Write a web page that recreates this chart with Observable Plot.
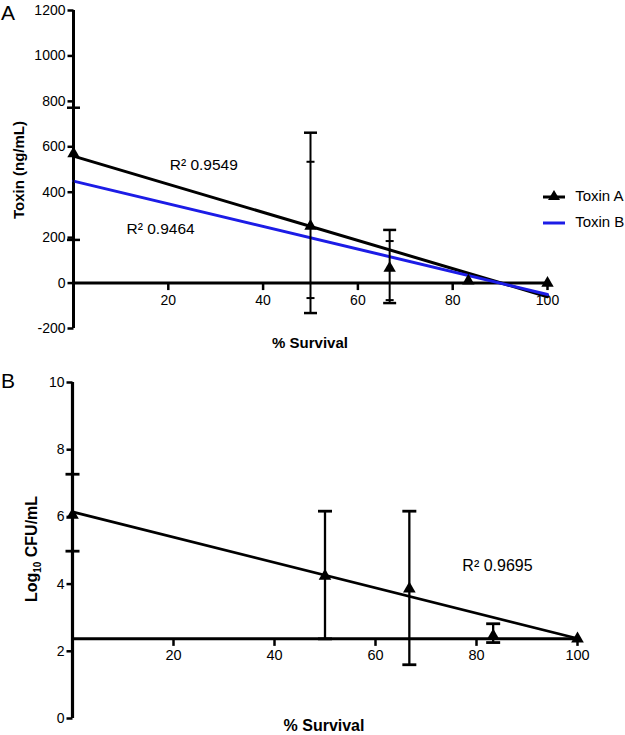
<!DOCTYPE html>
<html>
<head>
<meta charset="utf-8">
<script src="https://cdn.jsdelivr.net/npm/d3@7"></script>
<script src="https://cdn.jsdelivr.net/npm/@observablehq/plot@0.6"></script>
<style>
  body { margin: 0; background: #fff; font-family: "Liberation Sans", Arial, sans-serif; }
  #wrap { position: relative; width: 625px; height: 735px; overflow: hidden; }
  .abs { position: absolute; }
  .panel { position: absolute; left: 0; font-size: 21px; line-height: 21px; color: #000; }
  .ytitle { position: absolute; font-weight: bold; white-space: nowrap; transform: translate(-50%, -50%) rotate(-90deg); color: #000; }
  .xtitle { position: absolute; font-weight: bold; white-space: nowrap; transform: translate(-50%, -50%); color: #000; }
  .leg { position: absolute; font-size: 15px; white-space: nowrap; color: #000; }
</style>
</head>
<body>
<div id="wrap">
  <div id="plotA" class="abs" style="left:0;top:0"></div>
  <div id="plotB" class="abs" style="left:0;top:360px"></div>
  <div class="panel" style="top:2px;left:1px">A</div>
  <div class="panel" style="top:370px;left:1px">B</div>
  <div class="ytitle" style="left:18px;top:170px;font-size:15px">Toxin (ng/mL)</div>
  <div class="ytitle" style="left:33px;top:549px;font-size:16px">Log<sub style="font-size:10px">10</sub> CFU/mL</div>
  <div class="xtitle" style="left:310px;top:342px;font-size:15px">% Survival</div>
  <div class="xtitle" style="left:324px;top:726px;font-size:16px">% Survival</div>
  <div class="leg" style="left:541px;top:186px">
    <svg width="26" height="18" style="vertical-align:middle"><line x1="2" y1="10" x2="24" y2="10" stroke="#000" stroke-width="3"/><path d="M13,3 L19,13 L7,13 Z" fill="#000"/></svg>
    <span style="position:relative;top:1px;margin-left:4px">Toxin A</span>
  </div>
  <div class="leg" style="left:541px;top:212px">
    <svg width="26" height="18" style="vertical-align:middle"><line x1="2" y1="10" x2="24" y2="10" stroke="#1c1ce6" stroke-width="3"/></svg>
    <span style="position:relative;top:1px;margin-left:4px">Toxin B</span>
  </div>
</div>
<script>
// ---------- data ----------
const xTicks = [20, 40, 60, 80, 100];
const yTicksA = [-200, 0, 200, 400, 600, 800, 1000, 1200];
const yTicksB = [0, 2, 4, 6, 8, 10];

const survival = [0, 50, 66.7, 83.3, 100];

// Panel A
const toxinA = [570, 251, 66, 10, 0];
const toxinAErrLow = [190, -132, -88, null, null];
const toxinAErrHigh = [772, 662, 234, null, null];
const toxinBErrLow = [null, -66, -75, null, null];
const toxinBErrHigh = [null, 534, 185, null, null];
const fitX = [0, 100];
const fitToxinA = [559, -60];
const fitToxinB = [449, -50];
const r2TextA = ["R² 0.9549", "R² 0.9464"];
const r2XA = [20.3, 11.2];
const r2YA = [518, 240];

// Panel B
const cfu = [6.05, 4.24, 3.86, 2.46, 2.37];
const cfuErrLow = [4.98, 2.37, 1.6, 2.26, null];
const cfuErrHigh = [7.27, 6.17, 6.17, 2.82, null];
const fitCfu = [6.15, 2.38];
const cfuAxisCross = 2.37;
const r2TextB = ["R² 0.9695"];
const r2XB = [77.2];
const r2YB = [4.54];

// ---------- helpers ----------
const FONT = '"Liberation Sans", Arial, sans-serif';
const tickLeft = {draw(c) { c.moveTo(0, 0); c.lineTo(-6, 0); }};
const tickDown = {draw(c) { c.moveTo(0, 0); c.lineTo(0, 7); }};
const capWide = {draw(c) { c.moveTo(-6.5, 0); c.lineTo(6.5, 0); }};
const capNarrow = {draw(c) { c.moveTo(-4, 0); c.lineTo(4, 0); }};
const capB = {draw(c) { c.moveTo(-7, 0); c.lineTo(7, 0); }};

function errRows(lo, hi) {
  return survival.map((s, i) => ({s, lo: lo[i], hi: hi[i]})).filter(d => d.lo != null && d.hi != null);
}
function caps(rows) {
  return rows.flatMap(d => [{s: d.s, v: d.lo}, {s: d.s, v: d.hi}]);
}

// ---------- Panel A ----------
const ptsA = survival.map((s, i) => ({s, v: toxinA[i]}));
const errA = errRows(toxinAErrLow, toxinAErrHigh);
const errB = errRows(toxinBErrLow, toxinBErrHigh);
const fitA = fitX.map((s, i) => ({s, v: fitToxinA[i]}));
const fitB = fitX.map((s, i) => ({s, v: fitToxinB[i]}));
const r2A = r2TextA.map((t, i) => ({t, s: r2XA[i], v: r2YA[i]}));

const plotA = Plot.plot({
  width: 625, height: 360,
  marginLeft: 73, marginRight: 78, marginTop: 10, marginBottom: 32,
  x: {domain: [0, 100], axis: null},
  y: {domain: [-200, 1200], axis: null},
  style: {fontFamily: FONT, fontSize: "14px", background: "transparent", overflow: "visible", color: "#000"},
  marks: [
    Plot.ruleX([0], {y1: -200, y2: 1200, stroke: "#000", strokeWidth: 3}),
    Plot.ruleY([0], {x1: 0, x2: 100, stroke: "#000", strokeWidth: 3}),
    Plot.dot(yTicksA, {x: () => 0, y: d => d, symbol: tickLeft, fill: "none", stroke: "#000", strokeWidth: 2.5}),
    Plot.text(yTicksA, {x: () => 0, y: d => d, text: d => String(d), textAnchor: "end", dx: -8, fontSize: 14, fill: "#000"}),
    Plot.dot(xTicks, {x: d => d, y: () => 0, symbol: tickDown, fill: "none", stroke: "#000", strokeWidth: 2.5}),
    Plot.text(xTicks, {x: d => d, y: () => 0, text: d => String(d), dy: 17, fontSize: 14, fill: "#000"}),
    Plot.line(fitA, {x: "s", y: "v", stroke: "#000", strokeWidth: 3}),
    Plot.line(fitB, {x: "s", y: "v", stroke: "#1c1ce6", strokeWidth: 3}),
    Plot.ruleX(errA, {x: "s", y1: "lo", y2: "hi", stroke: "#000", strokeWidth: 2}),
    Plot.dot(caps(errA), {x: "s", y: "v", symbol: capWide, fill: "none", stroke: "#000", strokeWidth: 2.5}),
    Plot.dot(caps(errB), {x: "s", y: "v", symbol: capNarrow, fill: "none", stroke: "#000", strokeWidth: 2}),
    Plot.dot(ptsA, {x: "s", y: "v", symbol: "triangle", r: 4.6, fill: "#000", stroke: "none"}),
    Plot.text(r2A, {x: "s", y: "v", text: "t", textAnchor: "start", fontSize: 15.5, fill: "#000"})
  ]
});
document.getElementById("plotA").appendChild(plotA);

// ---------- Panel B ----------
const ptsB = survival.map((s, i) => ({s, v: cfu[i]}));
const errCfu = errRows(cfuErrLow, cfuErrHigh);
const fitBLine = fitX.map((s, i) => ({s, v: fitCfu[i]}));
const r2B = r2TextB.map((t, i) => ({t, s: r2XB[i], v: r2YB[i]}));

const plotB = Plot.plot({
  width: 625, height: 375,
  marginLeft: 72, marginRight: 48, marginTop: 22, marginBottom: 17,
  x: {domain: [0, 100], axis: null},
  y: {domain: [0, 10], axis: null},
  style: {fontFamily: FONT, fontSize: "14px", background: "transparent", overflow: "visible", color: "#000"},
  marks: [
    Plot.ruleX([0], {y1: 0, y2: 10, stroke: "#000", strokeWidth: 3.2}),
    Plot.ruleY([cfuAxisCross], {x1: 0, x2: 100, stroke: "#000", strokeWidth: 3}),
    Plot.dot(yTicksB, {x: () => 0, y: d => d, symbol: tickLeft, fill: "none", stroke: "#000", strokeWidth: 2.5}),
    Plot.text(yTicksB, {x: () => 0, y: d => d, text: d => String(d), textAnchor: "end", dx: -8, fontSize: 14, fill: "#000"}),
    Plot.dot(xTicks, {x: d => d, y: () => cfuAxisCross, symbol: tickDown, fill: "none", stroke: "#000", strokeWidth: 2.5}),
    Plot.text(xTicks, {x: d => d, y: () => cfuAxisCross, text: d => String(d), dy: 16, fontSize: 14.5, fill: "#000"}),
    Plot.line(fitBLine, {x: "s", y: "v", stroke: "#000", strokeWidth: 2.7}),
    Plot.ruleX(errCfu, {x: "s", y1: "lo", y2: "hi", stroke: "#000", strokeWidth: 2.3}),
    Plot.dot(caps(errCfu), {x: "s", y: "v", symbol: capB, fill: "none", stroke: "#000", strokeWidth: 2.8}),
    Plot.dot(ptsB, {x: "s", y: "v", symbol: "triangle", r: 4.7, fill: "#000", stroke: "none"}),
    Plot.text(r2B, {x: "s", y: "v", text: "t", textAnchor: "start", fontSize: 16, fill: "#000"})
  ]
});
document.getElementById("plotB").appendChild(plotB);
</script>
</body>
</html>
